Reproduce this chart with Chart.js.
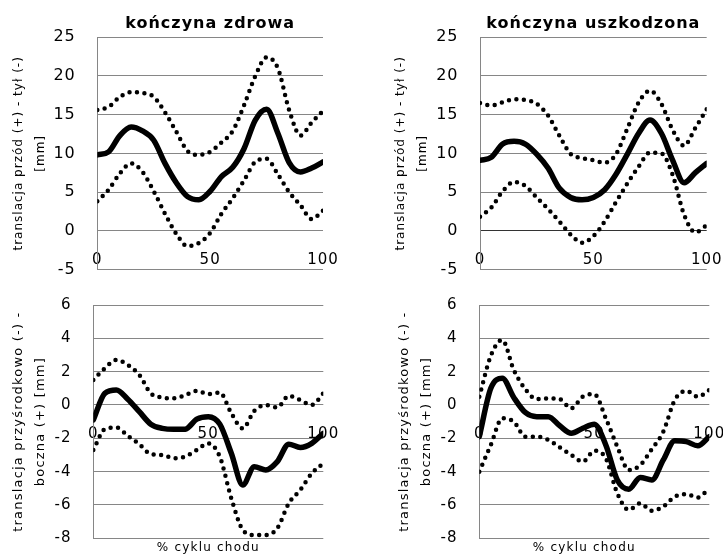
<!DOCTYPE html>
<html lang="pl">
<head>
<meta charset="utf-8">
<title>Translacja kolana w cyklu chodu</title>
<script src="https://cdn.jsdelivr.net/npm/chart.js@4.4.1/dist/chart.umd.min.js"></script>
<style>
  html, body { margin: 0; padding: 0; background: #fff; }
  #page { position: relative; width: 723px; height: 559px; }
  #page canvas { position: absolute; }
</style>
</head>
<body>
<div id="page">
  <canvas id="apZdrowa" width="361" height="280" style="left:0;top:0"></canvas>
  <canvas id="apUszkodzona" width="362" height="280" style="left:361px;top:0"></canvas>
  <canvas id="mlZdrowa" width="361" height="279" style="left:0;top:280px"></canvas>
  <canvas id="mlUszkodzona" width="362" height="279" style="left:361px;top:280px"></canvas>
</div>
<script>
// % cyklu chodu (odczyt co 5%)
const CYKL = [0, 5, 10, 15, 20, 25, 30, 35, 40, 45, 50, 55, 60, 65, 70, 75, 80, 85, 90, 95, 100];

// Tytuły i opisy osi
const TYTULY = ['kończyna zdrowa', 'kończyna uszkodzona'];
const OS_AP = ['translacja przód (+) - tył (-)', '[mm]'];
const OS_ML = ['translacja przyśrodkowo (-) -', 'boczna (+) [mm]'];
const OS_X = '% cyklu chodu';

// Translacja przód/tył [mm] - kończyna zdrowa (średnia, +SD, -SD)
const AP_ZDROWA_SR   = [9.8, 10.2, 12.3, 13.4, 12.9, 11.7, 8.7, 6.2, 4.4, 4.0, 5.1, 7.0, 8.2, 10.6, 14.3, 15.7, 12.6, 8.8, 7.6, 8.1, 8.9];
const AP_ZDROWA_GORA = [15.6, 16.0, 17.3, 17.9, 17.8, 17.3, 15.3, 12.8, 10.3, 9.8, 10.2, 11.4, 12.9, 16.2, 20.0, 22.4, 21.0, 15.6, 12.3, 14.0, 15.5];
const AP_ZDROWA_DOL  = [3.8, 5.3, 7.4, 8.7, 7.6, 5.1, 2.2, -0.4, -2.0, -1.6, -0.3, 2.2, 4.2, 6.5, 8.9, 9.3, 7.3, 5.0, 3.3, 1.5, 2.6];

// Translacja przód/tył [mm] - kończyna uszkodzona
const AP_USZK_SR   = [9.1, 9.5, 11.2, 11.55, 11.2, 9.9, 8.1, 5.5, 4.3, 4.0, 4.3, 5.3, 7.3, 9.9, 12.6, 14.3, 12.6, 9.1, 6.2, 7.5, 8.7];
const AP_USZK_GORA = [16.5, 16.2, 16.6, 17.0, 16.9, 16.4, 14.9, 12.3, 9.9, 9.4, 9.1, 8.8, 9.9, 13.2, 16.6, 18.1, 16.4, 13.0, 11.0, 13.3, 15.7];
const AP_USZK_DOL  = [1.8, 3.0, 5.1, 6.3, 5.8, 4.3, 2.8, 1.2, -0.5, -1.55, -0.7, 1.2, 3.7, 6.1, 8.3, 10.1, 10.0, 7.2, 2.1, -0.2, 0.7];

// Translacja przyśrodkowo/bocznie [mm] - kończyna zdrowa
const ML_ZDROWA_SR   = [-0.9, 0.7, 0.9, 0.35, -0.4, -1.15, -1.4, -1.46, -1.45, -0.85, -0.7, -1.15, -2.9, -4.8, -3.7, -3.9, -3.4, -2.35, -2.55, -2.3, -1.7];
const ML_ZDROWA_GORA = [1.5, 2.2, 2.7, 2.4, 1.8, 0.7, 0.45, 0.4, 0.6, 0.85, 0.65, 0.75, -0.5, -1.4, -0.35, 0.0, -0.15, 0.55, 0.3, 0.0, 0.7];
const ML_ZDROWA_DOL  = [-2.7, -1.45, -1.35, -1.85, -2.35, -2.95, -3.0, -3.2, -3.1, -2.7, -2.3, -3.1, -5.6, -7.5, -7.8, -7.8, -7.4, -5.9, -5.1, -4.1, -3.5];

// Translacja przyśrodkowo/bocznie [mm] - kończyna uszkodzona
const ML_USZK_SR   = [-1.9, 1.0, 1.6, 0.45, -0.45, -0.7, -0.7, -1.25, -1.7, -1.4, -1.15, -2.4, -4.5, -5.05, -4.35, -4.5, -3.3, -2.15, -2.2, -2.45, -1.9];
const ML_USZK_GORA = [0.5, 2.95, 3.9, 2.1, 0.95, 0.35, 0.4, 0.35, -0.2, 0.5, 0.65, -0.8, -2.5, -3.9, -3.6, -2.65, -1.6, 0.3, 0.85, 0.5, 0.9];
const ML_USZK_DOL  = [-4.0, -2.4, -0.8, -1.0, -1.9, -1.9, -2.1, -2.55, -3.0, -3.4, -2.75, -3.2, -5.3, -6.3, -5.9, -6.35, -6.1, -5.5, -5.35, -5.55, -5.0];

Chart.defaults.font.family = "'DejaVu Sans', Verdana, sans-serif";
Chart.defaults.color = '#000';

const SIATKA = '#868686';

/**
 * Lekkie rozstrzelenie liter (oryginalny font jest szerszy niż DejaVu).
 */
const odstepLiter = {
    id: 'odstepLiter',
    beforeUpdate(chart, args, o) { chart.ctx.letterSpacing = o.px + 'px'; },
    beforeDraw(chart, args, o) { chart.ctx.letterSpacing = o.px + 'px'; }
};

/**
 * Jedna seria: linia ciągła (średnia) albo kropkowana (odchylenie).
 */
function seria(dane, kropki) {
    return {
        data: dane,
        borderColor: '#000',
        borderWidth: kropki ? 4.5 : 5.5,
        borderDash: kropki ? [0, 7.5] : [],
        borderCapStyle: 'round',
        borderJoinStyle: 'round',
        pointRadius: 0,
        cubicInterpolationMode: 'monotone',
        fill: false
    };
}

/**
 * Tworzy jeden panel wykresu.
 */
function panel(id, p) {
    const ctx = document.getElementById(id).getContext('2d');
    const tytulOpts = p.tytul
        ? { display: true, text: p.tytul, position: 'top', fullSize: false,
            font: { size: 16, weight: 'bold' }, padding: { top: 14.4, bottom: 3.7 } }
        : { display: true, text: p.tytulDol, position: 'bottom', fullSize: false,
            font: { size: 12, weight: 'normal' }, padding: { top: 2.8, bottom: 0 } };

    return new Chart(ctx, {
        type: 'line',
        data: {
            labels: CYKL,
            datasets: [
                seria(p.gora, true),
                seria(p.dol, true),
                seria(p.srednia, false)
            ]
        },
        options: {
            responsive: false,
            animation: false,
            layout: { padding: p.padding },
            plugins: {
                legend: { display: false },
                tooltip: { enabled: false },
                title: tytulOpts,
                odstepLiter: { px: p.odstep }
            },
            scales: {
                x: {
                    type: 'linear',
                    position: { y: p.osX },
                    min: 0,
                    max: 100,
                    ticks: { stepSize: 50, mirror: true, padding: p.padX, font: { size: 15 }, maxRotation: 0 },
                    grid: { display: false, drawTicks: false },
                    border: { display: false },
                    afterFit(s) {
                        s.height = 0;
                        s.paddingLeft = s.paddingRight = 0;
                    }
                },
                y: {
                    position: 'left',
                    min: p.min,
                    max: p.max,
                    ticks: { stepSize: p.krok, padding: 21.5, font: { size: p.fontY } },
                    grid: {
                        drawTicks: false,
                        lineWidth: 1,
                        color: c => (p.zeroCiemne && c.tick && c.tick.value === 0) ? '#333' : SIATKA
                    },
                    border: { display: true, color: SIATKA, width: 1 },
                    title: {
                        display: true,
                        text: p.osY,
                        font: { size: p.fontTytY, lineHeight: 22 / p.fontTytY },
                        padding: { top: p.padTytY, bottom: 0 }
                    },
                    afterFit(s) {
                        s.width = p.szerY;
                        s.paddingTop = s.paddingBottom = 0;
                    }
                }
            }
        },
        plugins: [odstepLiter]
    });
}

document.addEventListener('DOMContentLoaded', () => {
    panel('apZdrowa', {
        tytul: TYTULY[0], osY: OS_AP,
        srednia: AP_ZDROWA_SR, gora: AP_ZDROWA_GORA, dol: AP_ZDROWA_DOL,
        min: -5, max: 25, krok: 5, osX: -5, padX: 0,
        padding: { left: 0, right: 38, top: 0, bottom: 10.6 },
        szerY: 97.3, padTytY: 7.5, fontY: 16, fontTytY: 12, odstep: 1
    });
    panel('apUszkodzona', {
        tytul: TYTULY[1], osY: OS_AP,
        srednia: AP_USZK_SR, gora: AP_USZK_GORA, dol: AP_USZK_DOL,
        min: -5, max: 25, krok: 5, osX: -5, padX: 0, zeroCiemne: true,
        padding: { left: 21.5, right: 16.3, top: 0, bottom: 10.6 },
        szerY: 97.5, padTytY: 7.5, fontY: 16, fontTytY: 12, odstep: 1
    });
    panel('mlZdrowa', {
        tytulDol: OS_X, osY: OS_ML,
        srednia: ML_ZDROWA_SR, gora: ML_ZDROWA_GORA, dol: ML_ZDROWA_DOL,
        min: -8, max: 6, krok: 2, osX: -2, padX: 5,
        padding: { left: 0, right: 37.7, top: 25, bottom: 3.5 },
        szerY: 93.3, padTytY: 8, fontY: 15, fontTytY: 13, odstep: 1.2
    });
    panel('mlUszkodzona', {
        tytulDol: OS_X + '\u00a0\u00a0\u00a0\u00a0', osY: OS_ML,
        srednia: ML_USZK_SR, gora: ML_USZK_GORA, dol: ML_USZK_DOL,
        min: -8, max: 6, krok: 2, osX: -2, padX: 5,
        padding: { left: 25, right: 13.7, top: 25, bottom: 3.5 },
        szerY: 93.3, padTytY: 8, fontY: 15, fontTytY: 13, odstep: 1.2
    });
});
</script>
</body>
</html>
